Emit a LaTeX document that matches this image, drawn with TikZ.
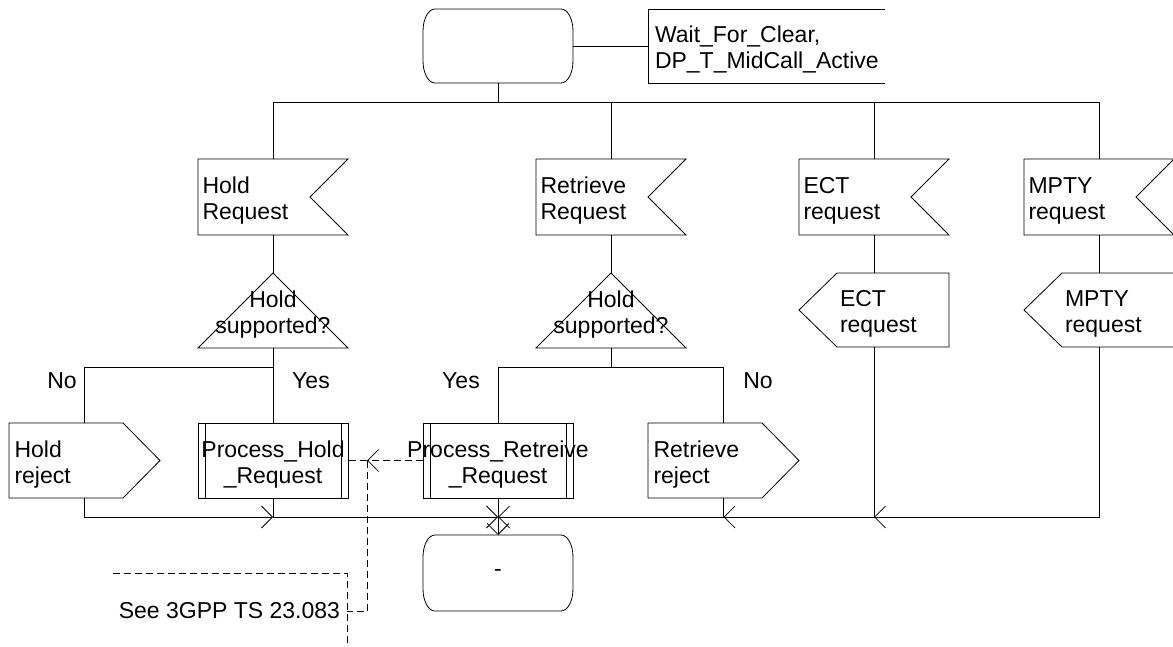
\documentclass[tikz,border=0pt]{standalone}
\usepackage{fontspec}
\setmainfont{Liberation Sans}
\usetikzlibrary{arrows.meta}
\hyphenpenalty=10000
\exhyphenpenalty=10000
\newcommand\fs{\fontsize{23pt}{26pt}\selectfont}
\newcommand\cln[1]{\makebox[0pt]{#1}}
\begin{document}
\begin{tikzpicture}[x=1pt,y=-1pt,
  ln/.style={line width=0.8pt},
  tip/.style={-{Straight Barb[length=11pt,width=22pt]}},
  dsh/.style={ln, dash pattern=on 7pt off 4pt},
  txt/.style={inner sep=0pt, outer sep=0pt, font=\fs},
  two/.style={text height=23.8pt, text depth=30.8pt},
  sigin/.style={txt,two,minimum width=150pt,minimum height=76pt,text width=141pt,align=left},
  sigout/.style={txt,two,minimum width=151pt,minimum height=75pt,text width=140pt,align=left},
  sigoutl/.style={txt,two,minimum width=150pt,minimum height=74pt,text width=68pt,align=left},
  statebox/.style={txt,minimum width=150pt,minimum height=74pt},
  dec/.style={txt,two,minimum width=150pt,minimum height=75pt,text width=150pt,align=center},
  proc/.style={txt,two,minimum width=150pt,minimum height=75pt,text width=150pt,align=center},
  lab/.style={txt,anchor=base},
]
\useasboundingbox (0,0) rectangle (1173,647);

% states and text box
\node[statebox] (s0) at (498,46) {};
\node[txt,two,minimum width=237pt,minimum height=74pt,text width=223pt,align=left] (tb) at (766.5,46) {Wait\_For\_Clear,\\DP\_T\_MidCall\_Active};
\node[statebox,minimum height=76pt] (s1) at (498,573) {-};

% input signals
\node[sigin] (hreq) at (273,197) {Hold\\Request};
\node[sigin] (rreq) at (611,197) {Retrieve\\Request};
\node[sigin] (ereq) at (874,197) {ECT\\request};
\node[sigin] (mreq) at (1099,197) {MPTY\\request};

% decisions
\node[dec] (hdec) at (273,310.5) {\cln{Hold}\\\cln{supported?}};
\node[dec] (rdec) at (611,310.5) {\cln{Hold}\\\cln{supported?}};

% left-pointing outputs
\node[sigoutl] (eout) at (874,310) {ECT\\request};
\node[sigoutl] (mout) at (1099,310) {MPTY\\request};

% bottom row
\node[sigout] (hrej) at (84.5,460.5) {Hold\\reject};
\node[proc] (phold) at (273,460.5) {\cln{Process\_Hold}\\\cln{\_Request}};
\node[proc] (pret) at (498,460.5) {\cln{Process\_Retreive}\\\cln{\_Request}};
\node[sigout] (rrej) at (723.5,460.5) {Retrieve\\reject};

% labels
\node[lab] (no1) at (62,388) {No};
\node[lab] (yes1) at (311,388) {Yes};
\node[lab] (yes2) at (461,388) {Yes};
\node[lab] (no2) at (758,388) {No};

% comment
\node[txt,anchor=base east] (cmt) at (340,618) {See 3GPP TS 23.083};

% ---- shapes ----
\foreach \n in {s0,s1}{
  \draw[ln] ([xshift=12pt]\n.north west) -- ([xshift=-12pt]\n.north east)
    arc[start angle=90,end angle=0,x radius=12pt,y radius=22pt]
    -- ([yshift=22pt]\n.south east)
    arc[start angle=0,end angle=-90,x radius=12pt,y radius=22pt]
    -- ([xshift=12pt]\n.south west)
    arc[start angle=270,end angle=180,x radius=12pt,y radius=22pt]
    -- ([yshift=-22pt]\n.north west)
    arc[start angle=180,end angle=90,x radius=12pt,y radius=22pt] -- cycle;
}
\draw[ln] (tb.north east) -- (tb.north west) -- (tb.south west) -- (tb.south east);
\foreach \n in {hreq,rreq,ereq,mreq}{
  \draw[ln] (\n.north west) -- (\n.north east) -- ([xshift=-38pt]\n.east)
    -- (\n.south east) -- (\n.south west) -- cycle;
}
\foreach \n in {hdec,rdec}{
  \draw[ln] (\n.south west) -- (\n.south east) -- (\n.north) -- cycle;
}
\foreach \n in {eout,mout}{
  \draw[ln] (\n.west) -- ([xshift=38pt]\n.north west) -- (\n.north east)
    -- (\n.south east) -- ([xshift=38pt]\n.south west) -- cycle;
}
\foreach \n in {hrej,rrej}{
  \draw[ln] (\n.north west) -- ([xshift=-37pt]\n.north east) -- (\n.east)
    -- ([xshift=-37pt]\n.south east) -- (\n.south west) -- cycle;
}
\foreach \n in {phold,pret}{
  \draw[ln] (\n.north west) rectangle (\n.south east);
  \draw[ln] ([xshift=7pt]\n.north west) -- ([xshift=7pt]\n.south west);
  \draw[ln] ([xshift=-7pt]\n.north east) -- ([xshift=-7pt]\n.south east);
}
% comment bracket
\coordinate (cbT) at (347,573);
\coordinate (cbB) at (347,650);
\coordinate (cbL) at (113,573);
\draw[dsh] (cbL) -- (cbT) -- (cbB);

% ---- connectors ----
\coordinate (busT) at (0,102);
\coordinate (brY) at (0,367);
\coordinate (busB) at (0,517);

\draw[ln] (s0.east) -- (tb.west);
\draw[ln] (s0.south) -- (s0.south |- busT);
\draw[ln] (hreq.north) |- (mreq.north |- busT) -- (mreq.north);
\draw[ln] (rreq.north) -- (rreq.north |- busT);
\draw[ln] (ereq.north) -- (ereq.north |- busT);

\draw[ln] (hreq.south) -- (hdec.north);
\draw[ln] (rreq.south) -- (rdec.north);
\draw[ln] (ereq.south) -- (eout.north);
\draw[ln] (mreq.south) -- (mout.north);

\draw[ln] (hdec.south) -- (hdec.south |- brY) -| (hrej.north);
\draw[ln] (hdec.south |- brY) -- (phold.north);
\draw[ln] (rdec.south) -- (rdec.south |- brY) -| (pret.north);
\draw[ln] (rdec.south |- brY) -| (rrej.north);

\draw[ln,tip] (hrej.south) |- (phold.south |- busB);
\draw[ln,tip] (phold.south) |- (pret.south |- busB);
\draw[ln,tip] (rrej.south) |- (pret.south |- busB);
\draw[ln,tip] (eout.south) |- (rrej.south |- busB);
\draw[ln,tip] (mout.south) |- (eout.south |- busB);
\draw[ln,tip] (pret.south) -- (s1.north);

% comment connectors
\coordinate (cj) at (367,460.5);
\coordinate (cb) at (347,611);
\draw[dsh,tip] (pret.west) -- (cj);
\draw[dsh] (cj) -- (phold.east);
\draw[dsh] (cj) |- (cb);
\end{tikzpicture}
\end{document}
